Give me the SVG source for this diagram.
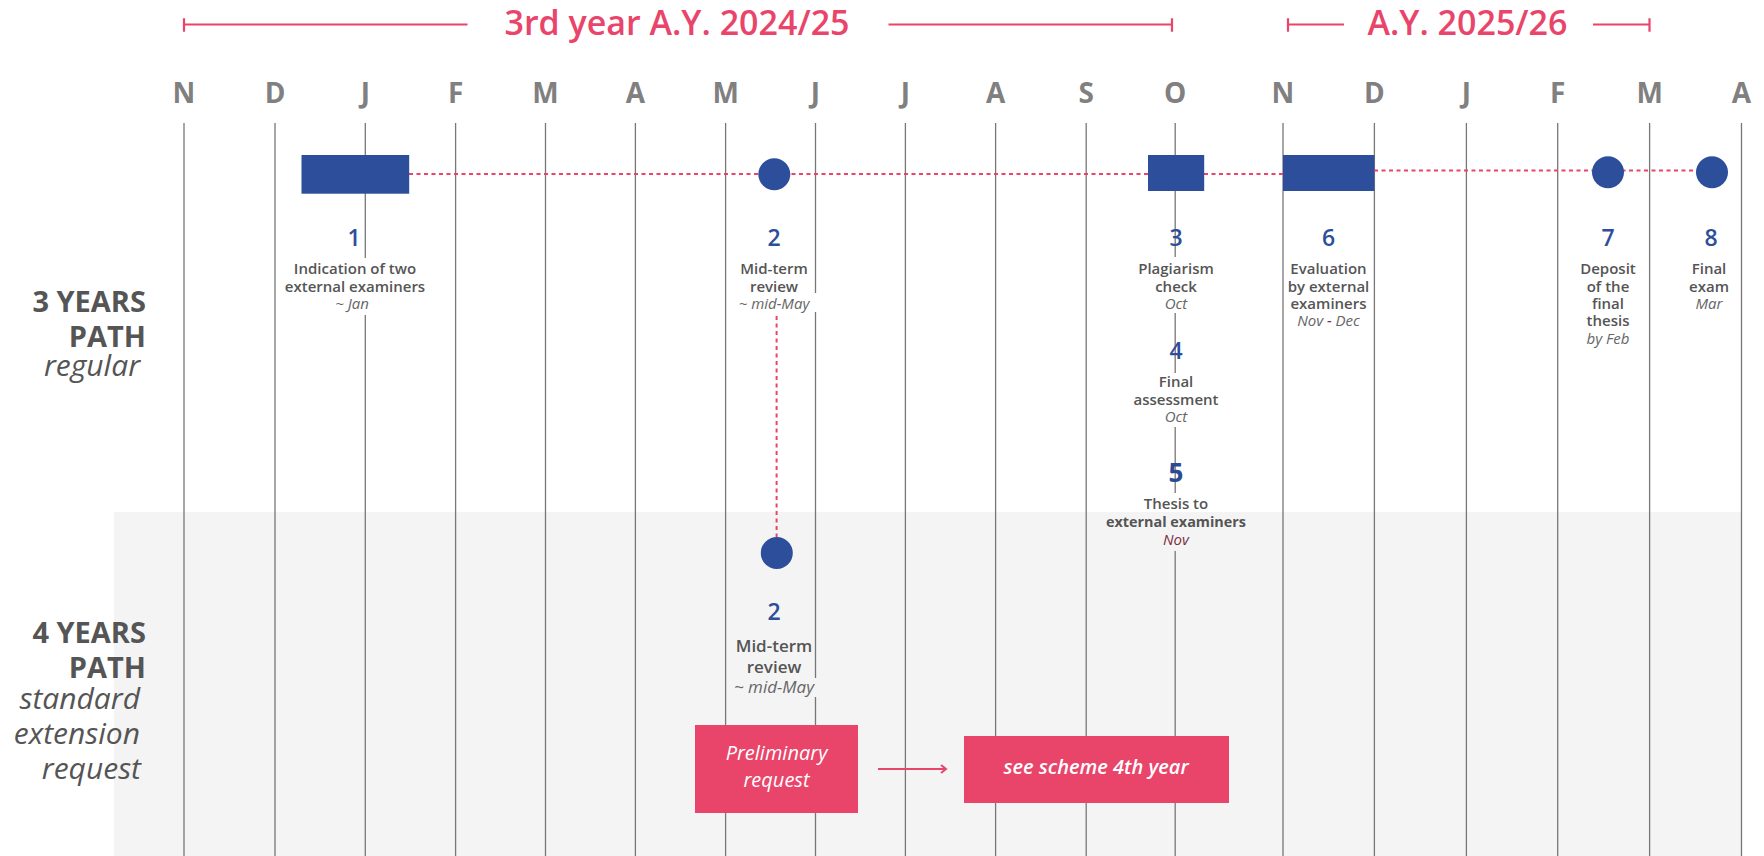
<svg xmlns="http://www.w3.org/2000/svg" width="1764" height="856" viewBox="0 0 1764 856">
<defs>
<style>
text{font-family:"Open Sans","Liberation Sans",sans-serif}
.hdr{font-size:34px;font-weight:600;fill:#e9456a;text-anchor:middle}
.mon{font-size:28px;font-weight:700;fill:#808080;text-anchor:middle}
.grid line{stroke:#777;stroke-width:1.3}
.hl{stroke:#e9456a;stroke-width:2.2;fill:none}
.num{font-size:23px;font-weight:600;fill:#2d4e9b;text-anchor:middle}
.t{font-size:15px;font-weight:600;fill:#555;text-anchor:middle}
.d{font-size:15px;font-style:italic;fill:#666;text-anchor:middle}
.t2{font-size:17px;font-weight:600;fill:#555;text-anchor:middle}
.d2{font-size:17px;font-style:italic;fill:#666;text-anchor:middle}
.path{font-size:29px;font-weight:700;fill:#555;text-anchor:end}
.sub{font-size:30px;font-style:italic;fill:#555;text-anchor:end}
.dot{stroke:#e9456a;stroke-width:2;stroke-dasharray:4 3.5;fill:none}
.blue{fill:#2d4e9b}
.pink{fill:#e9456a}
.btn{font-size:20px;font-style:italic;fill:#fff;text-anchor:middle}
.bgw{fill:#fff}
.bgg{fill:#f4f4f4}
</style>
<marker id="arr" viewBox="0 0 10 10" refX="8" refY="5" markerWidth="10" markerHeight="10" orient="auto" markerUnits="userSpaceOnUse">
<path d="M3 1 L8 5 L3 9" fill="none" stroke="#e9456a" stroke-width="2"/>
</marker>
</defs>
<rect x="0" y="0" width="1764" height="856" fill="#fff"/>
<rect id="band" x="114" y="512" width="1628" height="344" fill="#f4f4f4"/>

<g id="header">
<path class="hl" d="M184 18.3V31.7M184 24.5H467.5M888.5 24.5H1172M1172 18.3V31.7"/>
<text class="hdr" x="677" y="35">3rd year A.Y. 2024/25</text>
<path class="hl" d="M1288 18.3V31.7M1288 24.5H1344M1593 24.5H1649.5M1649.5 18.3V31.7"/>
<text class="hdr" x="1467.5" y="35">A.Y. 2025/26</text>
</g>

<g id="months">
<text class="mon" x="184" y="103">N</text>
<text class="mon" x="275" y="103">D</text>
<text class="mon" x="365.3" y="103">J</text>
<text class="mon" x="455.6" y="103">F</text>
<text class="mon" x="545.5" y="103">M</text>
<text class="mon" x="635.4" y="103">A</text>
<text class="mon" x="725.6" y="103">M</text>
<text class="mon" x="815.5" y="103">J</text>
<text class="mon" x="905.4" y="103">J</text>
<text class="mon" x="995.6" y="103">A</text>
<text class="mon" x="1086.2" y="103">S</text>
<text class="mon" x="1175.2" y="103">O</text>
<text class="mon" x="1283" y="103">N</text>
<text class="mon" x="1374.4" y="103">D</text>
<text class="mon" x="1466.4" y="103">J</text>
<text class="mon" x="1557.7" y="103">F</text>
<text class="mon" x="1649.6" y="103">M</text>
<text class="mon" x="1741.5" y="103">A</text>
</g>

<g class="grid" id="grid">
<line x1="184" y1="123" x2="184" y2="856"/>
<line x1="275" y1="123" x2="275" y2="856"/>
<line x1="365.3" y1="123" x2="365.3" y2="856"/>
<line x1="455.6" y1="123" x2="455.6" y2="856"/>
<line x1="545.5" y1="123" x2="545.5" y2="856"/>
<line x1="635.4" y1="123" x2="635.4" y2="856"/>
<line x1="725.6" y1="123" x2="725.6" y2="856"/>
<line x1="815.5" y1="123" x2="815.5" y2="856"/>
<line x1="905.4" y1="123" x2="905.4" y2="856"/>
<line x1="995.6" y1="123" x2="995.6" y2="856"/>
<line x1="1086.2" y1="123" x2="1086.2" y2="856"/>
<line x1="1175.2" y1="123" x2="1175.2" y2="856"/>
<line x1="1283" y1="123" x2="1283" y2="856"/>
<line x1="1374.4" y1="123" x2="1374.4" y2="856"/>
<line x1="1466.4" y1="123" x2="1466.4" y2="856"/>
<line x1="1557.7" y1="123" x2="1557.7" y2="856"/>
<line x1="1649.6" y1="123" x2="1649.6" y2="856"/>
<line x1="1741.5" y1="123" x2="1741.5" y2="856"/>
</g>

<g id="row-labels">
<text class="path" x="146" y="312">3 YEARS</text>
<text class="path" x="146" y="347">PATH</text>
<text class="sub" x="140" y="376">regular</text>
<text class="path" x="146" y="642.5">4 YEARS</text>
<text class="path" x="146" y="677.5">PATH</text>
<text class="sub" x="140" y="709">standard</text>
<text class="sub" x="140" y="744">extension</text>
<text class="sub" x="141" y="779">request</text>
</g>

<g id="connectors">
<line class="dot" x1="409" y1="174" x2="1148" y2="174"/>
<line class="dot" x1="1204" y1="174" x2="1283" y2="174"/>
<line class="dot" x1="1374" y1="170.5" x2="1712" y2="170.5"/>
<line class="dot" x1="776.6" y1="316" x2="776.6" y2="537"/>
<line x1="878" y1="769" x2="946" y2="769" stroke="#e9456a" stroke-width="2" marker-end="url(#arr)"/>
</g>

<g id="node1">
<rect class="blue" x="301.5" y="155" width="107.7" height="38.7"/>
<text class="num" x="354" y="246">1</text>
<rect class="bgw" x="330" y="258" width="70" height="57"/>
<text class="t" x="355" y="274.3">Indication of two</text>
<text class="t" x="355" y="291.6">external examiners</text>
<text class="d" x="352" y="308.9">~ Jan</text>
</g>

<g id="node2">
<circle class="blue" cx="774.3" cy="174.3" r="16"/>
<text class="num" x="774" y="246">2</text>
<rect class="bgw" x="736" y="293" width="82" height="19"/>
<text class="t" x="774" y="274.3">Mid-term</text>
<text class="t" x="774" y="291.6">review</text>
<text class="d" x="774" y="308.9">~ mid-May</text>
</g>

<g id="node3">
<rect class="blue" x="1148" y="155" width="56.2" height="36"/>
<text class="num" x="1176" y="246">3</text>
<rect class="bgw" x="1139" y="257" width="74" height="56"/>
<text class="t" x="1176" y="274.3">Plagiarism</text>
<text class="t" x="1176" y="291.6">check</text>
<text class="d" x="1176" y="308.9">Oct</text>
</g>

<g id="node4">
<text class="num" x="1176" y="359">4</text>
<rect class="bgw" x="1134" y="373" width="84" height="54"/>
<text class="t" x="1176" y="387">Final</text>
<text class="t" x="1176" y="405">assessment</text>
<text class="d" x="1176" y="422">Oct</text>
</g>

<g id="node5">
<text class="num" x="1176" y="481.7" style="font-size:26px;font-weight:700;fill:#2b4a93">5</text>
<rect class="bgw" x="1140" y="493" width="72" height="19"/>
<rect class="bgg" x="1104" y="512" width="144" height="39"/>
<text class="t" x="1176" y="509">Thesis to</text>
<text class="t" x="1176" y="527" style="font-weight:700;font-size:14.4px">external examiners</text>
<text class="d" x="1176" y="545" style="fill:#7a2f42">Nov</text>
</g>

<g id="node6">
<rect class="blue" x="1283" y="155" width="91.4" height="36"/>
<text class="num" x="1328.5" y="246">6</text>
<text class="t" x="1328.5" y="274.3">Evaluation</text>
<text class="t" x="1328.5" y="291.6">by external</text>
<text class="t" x="1328.5" y="308.9">examiners</text>
<text class="d" x="1328.5" y="326.2">Nov <tspan style="fill:#7a2f42">-</tspan> Dec</text>
</g>

<g id="node7">
<circle class="blue" cx="1608" cy="172.3" r="16"/>
<text class="num" x="1608" y="246">7</text>
<text class="t" x="1608" y="274.3">Deposit</text>
<text class="t" x="1608" y="291.6">of the</text>
<text class="t" x="1608" y="308.9">final</text>
<text class="t" x="1608" y="326.2">thesis</text>
<text class="d" x="1608" y="343.5">by Feb</text>
</g>

<g id="node8">
<circle class="blue" cx="1712" cy="172.3" r="16"/>
<text class="num" x="1711" y="246">8</text>
<text class="t" x="1709" y="274.3">Final</text>
<text class="t" x="1709" y="291.6">exam</text>
<text class="d" x="1709" y="308.9">Mar</text>
</g>

<g id="node2b">
<circle class="blue" cx="776.8" cy="553" r="16"/>
<text class="num" x="774" y="620">2</text>
<rect class="bgg" x="731" y="678" width="87" height="19"/>
<text class="t2" x="774" y="652">Mid-term</text>
<text class="t2" x="774" y="672.5">review</text>
<text class="d2" x="774" y="693">~ mid-May</text>
</g>

<g id="prelim">
<rect class="pink" x="695" y="725" width="163" height="88"/>
<text class="btn" x="776.5" y="760">Preliminary</text>
<text class="btn" x="776.5" y="786.7">request</text>
</g>

<g id="scheme4">
<rect class="pink" x="964" y="736" width="265" height="67"/>
<text class="btn" x="1096" y="774.3" style="font-weight:600">see scheme 4th year</text>
</g>
</svg>
